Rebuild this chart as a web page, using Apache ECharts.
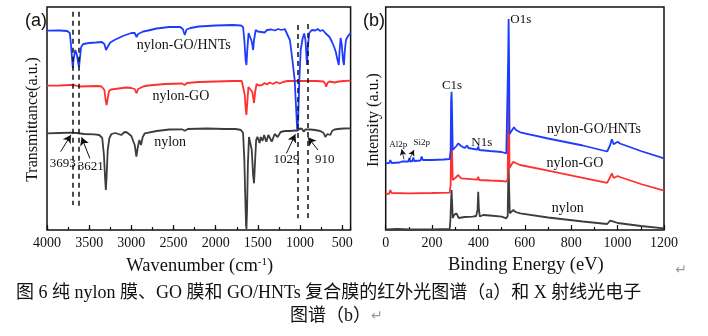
<!DOCTYPE html>
<html>
<head>
<meta charset="utf-8">
<script src="https://cdn.jsdelivr.net/npm/echarts@6/dist/echarts.min.js"></script>
<style>
html, body { margin: 0; padding: 0; background: #fff; }
#chart { width: 708px; height: 336px; }
</style>
</head>
<body>
<div id="chart"></div>
<script>
// ---- FTIR spectra: [wavenumber (cm-1), transmittance (a.u.)] ----
const irHNTs = [
  [4000,199.3],[3850,199.5],[3760,199],[3730,197],[3715,185],[3700,168],[3693,162],[3686,170],
  [3665,180],[3645,175],[3628,166],[3620,163],[3612,170],[3595,183],[3570,186],[3500,187],
  [3420,187.5],[3350,188],[3320,186],[3300,180],[3290,178.5],[3275,184],[3250,187.5],[3200,190],
  [3100,194],[3000,197],[2960,197],[2938,193],[2920,196],[2895,197],[2880,195],[2860,198.5],
  [2800,199.5],[2700,201.5],[2550,203],[2420,203],[2390,201],[2366,195],[2345,200.5],[2300,202],
  [2200,203.5],[2000,204.5],[1800,205],[1700,204.5],[1675,203],[1660,190],[1645,170],[1635,165],
  [1625,180],[1610,197],[1590,198.5],[1570,188],[1556,180],[1545,190],[1525,200],[1500,198.5],
  [1480,200.5],[1460,198],[1440,200],[1420,197.5],[1390,200],[1370,198.5],[1340,200.5],[1300,199.5],
  [1260,201],[1220,200],[1180,201],[1161,200.5],[1120,190],[1090,170],[1063,150],[1045,120],
  [1033,100],[1029,99],[1022,110],[1008,150],[992,180],[968,192],[950,196.5],[935,190],
  [917,165],[905,185],[890,197],[860,200],[845,200.5],[820,199.5],[790,201],[760,199],
  [730,200],[700,197],[680,195],[650,193],[620,188],[595,183],[575,178],[555,170],
  [540,165],[530,180],[518,192],[505,185],[490,170],[479,165],[470,178],[455,190],[430,194],[400,197]
];
const irGO = [
  [4000,144.3],[3850,144.5],[3720,145],[3693,145],[3660,144.5],[3621,143.5],[3600,144],[3400,144],
  [3353,143.5],[3320,140],[3305,130],[3294,125],[3283,130],[3265,139],[3240,140.5],[3150,141.5],
  [3060,142.5],[3000,142],[2960,141],[2938,136.7],[2920,141],[2895,142],[2880,140],[2860,143.5],
  [2800,144.5],[2600,146],[2400,146.5],[2366,145],[2340,147],[2200,148],[2000,148.5],[1800,149],
  [1690,149],[1670,147],[1655,135],[1643,120],[1635,115],[1627,125],[1612,143],[1590,145],
  [1565,138],[1545,127],[1532,138],[1515,146],[1490,144.5],[1470,146.5],[1450,145],[1420,147],
  [1390,145.5],[1360,147.5],[1320,146],[1280,148],[1240,146.5],[1200,148],[1150,149],[1000,149],
  [800,149],[720,148.5],[700,146],[689,143.3],[675,147],[650,148.5],[620,148],[600,146],
  [590,147.5],[540,148.5],[480,149],[400,149.3]
];
const irNylon = [
  [4000,96.7],[3850,97],[3720,97.3],[3650,97],[3560,96],[3440,95.7],[3380,95],[3345,92],
  [3325,75],[3310,50],[3302,40],[3294,52],[3280,80],[3260,92],[3235,96],[3190,97],
  [3120,95],[3080,98],[3050,97.5],[3000,94],[2960,85],[2940,73.3],[2925,82],[2905,90],
  [2885,85],[2865,93],[2840,96.7],[2700,99],[2550,100.5],[2400,100.7],[2366,99.3],[2330,101],
  [2100,101.5],[1900,101],[1760,101],[1700,100],[1675,97],[1660,70],[1648,30],[1640,5],
  [1635,1],[1628,20],[1618,65],[1605,93],[1590,93],[1572,80],[1556,55],[1545,46.7],
  [1535,65],[1520,90],[1505,93.3],[1480,87],[1465,93],[1445,89],[1425,95],[1400,88.3],
  [1375,95],[1335,88.3],[1300,96],[1265,93],[1230,98],[1180,99],[1120,99],[1060,99.5],
  [1029,99.3],[1000,101.5],[975,101],[955,98.3],[935,100.7],[880,100.5],[820,100],[760,99],
  [720,97],[700,93],[689,91.7],[675,96],[655,97],[640,95],[620,99],[590,100.5],
  [550,101],[480,101.5],[400,101.7]
];

// ---- XPS survey spectra: [binding energy (eV), intensity (a.u.)] ----
const xpsHNTs = [
  [0,66.7],[15,67],[20,70],[25,67],[60,67.5],[70,68.5],[73,70.5],[76,68],[98,68.5],[102,72],
  [106,68.5],[115,69],[119,72.5],[123,69],[150,69.5],[155,73.5],[160,70],[200,70],[250,70.5],
  [276,71],[280,80],[282,130],[284,138.3],[286,120],[289,80],[295,78.5],[305,84],[313,86.7],
  [325,84],[340,82],[352,84.5],[356,82],[380,81],[396,80.5],[399,83.5],[403,80],[450,79],
  [500,78],[520,76.7],[526,78],[528,170],[530,211],[532,170],[534,96],[540,97],[553,102.7],
  [562,100],[580,97.7],[700,91.5],[850,84.5],[955,78.5],[960,78.3],[968,85],[975,90.7],
  [983,85.7],[1000,88.3],[1010,86.5],[1100,79],[1200,71.7]
];
const xpsGO = [
  [0,35.7],[15,36.5],[20,40],[25,37],[100,36.7],[200,37],[276,37.3],[280,45],[282,90],[284,100],
  [286,80],[289,50],[300,52],[313,55],[325,51.7],[380,50.7],[396,50.5],[399,53.3],[403,50],
  [450,49.5],[500,49],[520,48.3],[526,51],[528,110],[530,160],[532,110],[534,62],[540,64],
  [550,68.3],[560,67],[580,65],[700,59.3],[850,52.1],[955,47.1],[962,46.7],[968,53],[975,56.7],
  [983,52],[1000,54],[1010,53],[1100,46],[1200,39.3]
];
const xpsNylon = [
  [0,0.7],[50,1],[100,0.5],[200,0.7],[276,1],[279,10],[282,30],[284,40],[286,30],[289,12],
  [295,15],[305,16.7],[315,12],[340,13],[375,13.3],[390,14],[396,20],[399,38.3],[402,20],
  [406,13.5],[420,15],[450,14.5],[500,13.3],[520,11.7],[526,14],[528,45],[530,65],[532,45],
  [535,16.7],[550,20],[560,18],[580,16.7],[700,12.5],[850,8.5],[955,6],[962,5.5],[968,9.3],
  [975,8],[983,8.3],[1000,7],[1100,4],[1200,1.7]
];

// ---- axis tick labels ----
const irTickLabels = ['4000','3500','3000','2500','2000','1500','1000','500'];
const xpsTickLabels = ['0','200','400','600','800','1000','1200'];

// FTIR axis runs from 4000 cm-1 on the left; plot against the offset from 4000
const IR_TOP = 4000;
const irX = w => IR_TOP - w;
const irSeries = arr => arr.map(p => [irX(p[0]), p[1]]);

const SERIF = "'Liberation Serif', 'Times New Roman', serif";
const SANS = "'Liberation Sans', Arial, sans-serif";
const INK = '#111';
const BLUE = '#1e3cff';
const RED = '#ff3030';
const GRAY = '#3d3d3d';

function tag(text, coord, size, pos) {
  return {
    name: text,
    coord: coord,
    symbol: 'circle',
    symbolSize: 1,
    itemStyle: { color: 'rgba(0,0,0,0)' },
    label: {
      show: true,
      formatter: text,
      position: pos || 'inside',
      distance: 0,
      color: INK,
      fontFamily: SERIF,
      fontSize: size
    }
  };
}
function seg(a, b) {
  return [{ coord: a }, { coord: b }];
}

const tickStyle = { color: INK, width: 1.2 };
const labelStyle = { fontFamily: SERIF, fontSize: 14, color: INK, margin: 6 };

const option = {
  animation: false,
  backgroundColor: '#fff',
  grid: [
    { left: 47, top: 7, width: 303.6, height: 223, show: true, borderColor: INK, borderWidth: 1.5, backgroundColor: 'transparent' },
    { left: 385.7, top: 7, width: 278.3, height: 223, show: true, borderColor: INK, borderWidth: 1.5, backgroundColor: 'transparent' }
  ],
  xAxis: [
    {
      gridIndex: 0, type: 'value', min: 0, max: 3600, interval: 500,
      axisLine: { show: false },
      axisTick: { inside: true, length: 5, lineStyle: tickStyle },
      axisLabel: Object.assign({}, labelStyle, {
        showMaxLabel: false,
        formatter: (v) => irTickLabels[Math.round(v / 500)] || ''
      }),
      splitLine: { show: false }
    },
    {
      gridIndex: 0, type: 'value', min: 0, max: 3600, interval: 250, position: 'bottom',
      axisLine: { show: false },
      axisTick: { inside: true, length: 3, lineStyle: tickStyle },
      axisLabel: { show: false },
      splitLine: { show: false }
    },
    {
      gridIndex: 1, type: 'value', min: 0, max: 1200, interval: 200,
      axisLine: { show: false },
      axisTick: { inside: true, length: 5, lineStyle: tickStyle },
      minorTick: { show: true, splitNumber: 2, length: 3, lineStyle: tickStyle },
      axisLabel: Object.assign({}, labelStyle, {
        formatter: (v) => xpsTickLabels[Math.round(v / 200)] || ''
      }),
      splitLine: { show: false }
    }
  ],
  yAxis: [
    { gridIndex: 0, type: 'value', min: 0, max: 223, show: false },
    { gridIndex: 1, type: 'value', min: 0, max: 223, show: false }
  ],
  series: [
    {
      type: 'line', xAxisIndex: 0, yAxisIndex: 0, data: irSeries(irNylon),
      showSymbol: false, lineStyle: { color: GRAY, width: 1.8 }, z: 2,
      markLine: {
        silent: true, symbol: 'none', label: { show: false },
        lineStyle: { color: INK, width: 1.5, type: [5, 4] },
        data: [
          seg([irX(3693), 218.3], [irX(3693), 25]),
          seg([irX(3621), 218.3], [irX(3621), 23.3]),
          seg([irX(1029), 205], [irX(1029), 11.7]),
          seg([irX(910), 206], [irX(910), 11.7])
        ]
      },
      markPoint: {
        silent: true,
        data: [
          tag('nylon-GO/HNTs', [irX(2378), 185], 14),
          tag('nylon-GO', [irX(2412), 133.3], 14),
          tag('nylon', [irX(2540), 87.7], 14),
          tag('3693', [irX(3812), 66.7], 13),
          tag('3621', [irX(3482), 63.3], 13),
          tag('1029', [irX(1161), 70], 13),
          tag('910', [irX(707), 70], 13)
        ]
      }
    },
    {
      type: 'line', xAxisIndex: 0, yAxisIndex: 0, data: irSeries(irGO),
      showSymbol: false, lineStyle: { color: RED, width: 1.8 }, z: 3
    },
    {
      type: 'line', xAxisIndex: 0, yAxisIndex: 0, data: irSeries(irHNTs),
      showSymbol: false, lineStyle: { color: BLUE, width: 1.8 }, z: 4,
      markLine: {
        silent: true, symbol: ['none', 'arrow'], symbolSize: [7, 8], label: { show: false },
        lineStyle: { color: INK, width: 1, type: 'solid' },
        data: [
          seg([irX(3839), 78.3], [irX(3717), 95]),
          seg([irX(3492), 71.7], [irX(3590), 92.7]),
          seg([irX(1161), 76.7], [irX(1055), 95.7]),
          seg([irX(787), 80], [irX(905), 92.7])
        ]
      }
    },
    {
      type: 'line', xAxisIndex: 2, yAxisIndex: 1, data: xpsNylon,
      showSymbol: false, lineStyle: { color: GRAY, width: 1.8 }, z: 2,
      markPoint: {
        silent: true,
        data: [
          tag('nylon-GO/HNTs', [898, 101], 14),
          tag('nylon-GO', [816, 66.7], 14),
          tag('nylon', [785, 21.7], 14),
          tag('O1s', [535, 210], 13, 'right'),
          tag('C1s', [286, 144], 13),
          tag('N1s', [414, 87.3], 13),
          tag('Al2p', [54, 85], 9),
          tag('Si2p', [155, 87.3], 9)
        ]
      }
    },
    {
      type: 'line', xAxisIndex: 2, yAxisIndex: 1, data: xpsGO,
      showSymbol: false, lineStyle: { color: RED, width: 1.8 }, z: 3
    },
    {
      type: 'line', xAxisIndex: 2, yAxisIndex: 1, data: xpsHNTs,
      showSymbol: false, lineStyle: { color: BLUE, width: 1.8 }, z: 4,
      markLine: {
        silent: true, symbol: ['none', 'arrow'], symbolSize: [5, 6], label: { show: false },
        lineStyle: { color: INK, width: 0.8, type: 'solid' },
        data: [
          seg([79, 70.7], [69, 80.7]),
          seg([101, 70], [122, 80])
        ]
      }
    }
  ],
  graphic: [
    { type: 'text', x: 25, y: 21, style: { text: '(a)', font: '18px ' + SANS, fill: INK, align: 'left', verticalAlign: 'middle' } },
    { type: 'text', x: 363, y: 21, style: { text: '(b)', font: '18px ' + SANS, fill: INK, align: 'left', verticalAlign: 'middle' } },
    { type: 'text', x: 33, y: 119.5, rotation: Math.PI / 2, style: { text: 'Transmittance(a.u.)', font: '16px ' + SERIF, fill: INK, align: 'center', verticalAlign: 'middle' } },
    { type: 'text', x: 374, y: 120, rotation: Math.PI / 2, style: { text: 'Intensity (a.u.)', font: '16px ' + SERIF, fill: INK, align: 'center', verticalAlign: 'middle' } },
    {
      type: 'text', x: 199.7, y: 266,
      style: {
        text: 'Wavenumber (cm{s|-1})', font: '18.5px ' + SERIF, fill: INK, align: 'center', verticalAlign: 'middle',
        rich: { s: { fontSize: 11, fontFamily: SERIF, fill: INK, verticalAlign: 'top' } }
      }
    },
    { type: 'text', x: 525.8, y: 265, style: { text: 'Binding Energy (eV)', font: '18.5px ' + SERIF, fill: INK, align: 'center', verticalAlign: 'middle' } },
    { type: 'text', x: 681, y: 270, style: { text: '↵', font: "14px 'DejaVu Sans'", fill: '#9a9a9a', align: 'center', verticalAlign: 'middle' } },
    { type: 'text', x: 16, y: 293, style: { text: '图 6 纯 nylon 膜、GO 膜和 GO/HNTs 复合膜的红外光图谱（a）和 X 射线光电子', font: "18px 'Liberation Serif', 'Noto Sans CJK SC'", fill: INK, align: 'left', verticalAlign: 'middle' } },
    {
      type: 'text', x: 290, y: 316,
      style: {
        text: '图谱（b）{m|↵}', font: "18px 'Liberation Serif', 'Noto Sans CJK SC'", fill: INK, align: 'left', verticalAlign: 'middle',
        rich: { m: { fontSize: 14, fontFamily: 'DejaVu Sans', fill: '#9a9a9a' } }
      }
    }
  ]
};

const chart = echarts.init(document.getElementById('chart'), null, { renderer: 'canvas' });
chart.setOption(option);
</script>
</body>
</html>
